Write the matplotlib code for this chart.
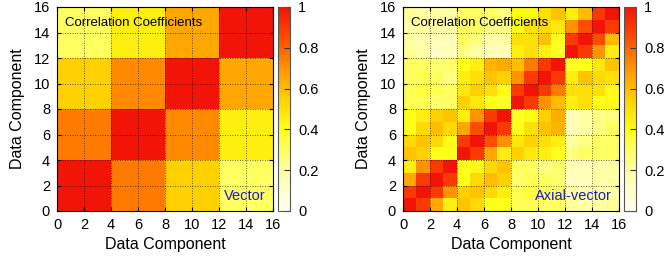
import matplotlib
matplotlib.use("Agg")
import matplotlib.pyplot as plt
import numpy as np
from matplotlib.colors import LinearSegmentedColormap

plt.rcParams['font.family'] = ['Liberation Sans', 'DejaVu Sans']

# Vector channel: correlation of 4 groups of 4 components
vec_blocks = [[1.00, 0.75, 0.55, 0.30],
              [0.75, 1.00, 0.72, 0.45],
              [0.55, 0.72, 1.00, 0.65],
              [0.30, 0.45, 0.65, 1.00]]

# Axial-vector channel: 4x4 blocks of the 16x16 matrix (rows = y, cols = x)
ax_AA = [[1.00, 0.90, 0.65, 0.45],
         [0.90, 1.00, 0.90, 0.70],
         [0.65, 0.90, 1.00, 0.90],
         [0.45, 0.70, 0.90, 1.00]]
ax_BB = [[1.00, 0.90, 0.65, 0.45],
         [0.90, 1.00, 0.85, 0.70],
         [0.65, 0.85, 1.00, 0.90],
         [0.45, 0.70, 0.90, 1.00]]
ax_CC = [[1.00, 0.90, 0.70, 0.60],
         [0.90, 1.00, 0.90, 0.75],
         [0.70, 0.90, 1.00, 0.90],
         [0.60, 0.75, 0.90, 1.00]]
ax_DD = [[1.00, 0.90, 0.70, 0.45],
         [0.90, 1.00, 0.85, 0.60],
         [0.70, 0.85, 1.00, 0.90],
         [0.45, 0.60, 0.90, 1.00]]
ax_AB = [[0.58, 0.52, 0.40, 0.40],
         [0.55, 0.58, 0.52, 0.45],
         [0.40, 0.52, 0.60, 0.55],
         [0.40, 0.42, 0.52, 0.58]]
ax_AC = [[0.32, 0.32, 0.30, 0.30],
         [0.32, 0.35, 0.32, 0.30],
         [0.28, 0.32, 0.30, 0.28],
         [0.30, 0.30, 0.25, 0.28]]
ax_AD = [[0.22, 0.20, 0.20, 0.22],
         [0.20, 0.18, 0.20, 0.20],
         [0.12, 0.15, 0.20, 0.20],
         [0.15, 0.15, 0.20, 0.20]]
ax_BC = [[0.55, 0.48, 0.45, 0.40],
         [0.48, 0.55, 0.50, 0.45],
         [0.40, 0.50, 0.58, 0.62],
         [0.38, 0.42, 0.55, 0.64]]
ax_BD = [[0.25, 0.30, 0.30, 0.30],
         [0.20, 0.25, 0.30, 0.30],
         [0.15, 0.20, 0.25, 0.30],
         [0.15, 0.20, 0.25, 0.25]]
ax_CD = [[0.45, 0.50, 0.40, 0.42],
         [0.50, 0.50, 0.50, 0.42],
         [0.45, 0.58, 0.52, 0.50],
         [0.38, 0.40, 0.48, 0.58]]

ticks = [0, 2, 4, 6, 8, 10, 12, 14, 16]
cbar_ticks = [0, 0.2, 0.4, 0.6, 0.8, 1]
labels = ["Vector", "Axial-vector"]

# assemble matrices
vec = np.kron(np.array(vec_blocks), np.ones((4, 4)))
B = {k: np.array(v) for k, v in dict(AA=ax_AA, BB=ax_BB, CC=ax_CC, DD=ax_DD, AB=ax_AB,
                                        AC=ax_AC, AD=ax_AD, BC=ax_BC, BD=ax_BD, CD=ax_CD).items()}
axial = np.block([
    [B['AA'], B['AB'], B['AC'], B['AD']],
    [B['AB'].T, B['BB'], B['BC'], B['BD']],
    [B['AC'].T, B['BC'].T, B['CC'], B['CD']],
    [B['AD'].T, B['BD'].T, B['CD'].T, B['DD']],
])

cmap = LinearSegmentedColormap.from_list("wyr", [
    (0.00, (1.0, 1.0, 0.95)),
    (0.20, (1.0, 1.0, 0.65)),
    (0.40, (1.0, 1.0, 0.10)),
    (0.55, (1.0, 0.82, 0.0)),
    (0.70, (1.0, 0.58, 0.0)),
    (0.85, (1.0, 0.30, 0.0)),
    (1.00, (0.95, 0.08, 0.03)),
])

fig = plt.figure(figsize=(6.68, 2.56), dpi=100)
W, H = 668.0, 256.0
panels = [(57, 278, vec, labels[0]), (403, 624, axial, labels[1])]
for x0, cx0, mat, lab in panels:
    ax = fig.add_axes([x0 / W, 45 / H, 216 / W, 204 / H])
    im = ax.imshow(mat, cmap=cmap, vmin=0, vmax=1, origin='lower',
                   extent=[0, 16, 0, 16], aspect='auto', interpolation='nearest')
    ax.set_xticks(ticks)
    ax.set_yticks(ticks)
    ax.tick_params(direction='in', length=3, top=True, right=True, labelsize=10.5, pad=5)
    ax.grid(True, color='black', linestyle=(0, (1, 2)), linewidth=0.6, alpha=0.8)
    ax.set_axisbelow(False)
    ax.set_xlabel("Data Component", fontsize=11.5, labelpad=4)
    ax.set_ylabel("Data Component", fontsize=11.5, labelpad=6)
    ax.text(0.035, 0.95, "Correlation Coefficients", transform=ax.transAxes,
            fontsize=9.5, va='top', ha='left', color='black')
    ax.text(0.965, 0.04, lab, transform=ax.transAxes, fontsize=10.5,
            va='bottom', ha='right', color='#1a1acc')
    cax = fig.add_axes([cx0 / W, 45 / H, 12 / W, 204 / H])
    cb = fig.colorbar(im, cax=cax, ticks=cbar_ticks)
    cb.ax.set_yticklabels(["0", "0.2", "0.4", "0.6", "0.8", "1"])
    cb.ax.tick_params(direction='in', length=4, labelsize=10.5, pad=6, color='#333333')
    cb.outline.set_edgecolor('#555555')
    cb.outline.set_linewidth(0.8)

fig.savefig("out.png", dpi=100)
